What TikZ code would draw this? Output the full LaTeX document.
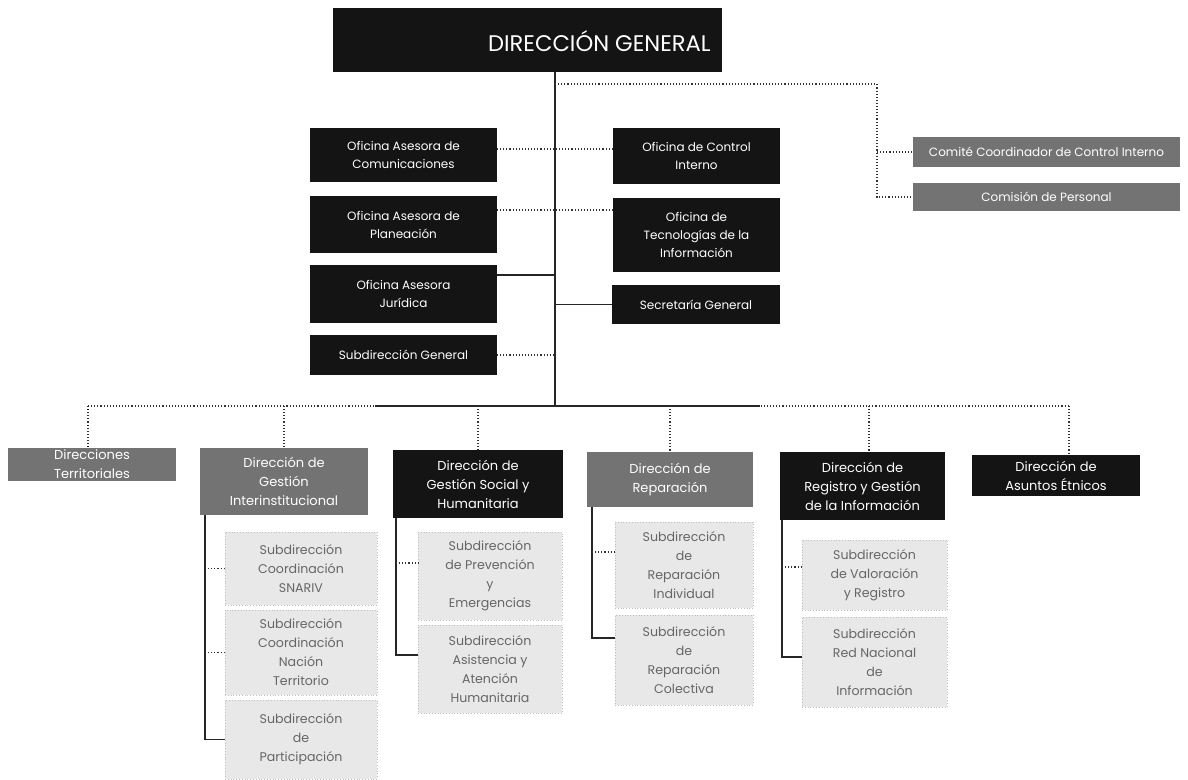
\documentclass[tikz,border=0pt]{standalone}
\usepackage{fontspec}
\setmainfont{Poppins}
\begin{document}
\begin{tikzpicture}[x=0.5pt,y=-0.5pt,
  base/.style={inner sep=0pt, outer sep=0pt, align=center, font=\fontsize{6}{9}\selectfont},
  dark/.style={base, fill=black!92, text=white},
  hatch/.style={base, fill=black!55, text=white},
  sub/.style={base, fill=black!9, draw=black!25, densely dotted, text=black!60, font=\fontsize{6.3}{9.5}\selectfont},
  dirbox/.style={font=\fontsize{6.5}{9.5}\selectfont},
  conn/.style={draw=black!85, line width=0.55pt},
  dconn/.style={draw=black!80, line width=0.55pt, densely dotted}]
\newcommand\obox[7]{\node[#1, minimum width={(#5-#3)*0.5pt}, minimum height={(#6-#4)*0.5pt}] (#2) at ({(#3+#5)/2},{(#4+#6)/2}) {#7};}
\path[use as bounding box] (0,0) rectangle (1188,780);
% top
\obox{dark}{dg}{333}{8}{722}{72}{}
\node[anchor=east, text=white, font=\fontsize{11.3}{13}\selectfont, inner sep=0pt] (dgt) at (711,41) {DIRECCIÓN GENERAL};
% left column
\obox{dark}{com}{310}{128}{497}{182}{Oficina Asesora de\\Comunicaciones}
\obox{dark}{pla}{310}{196}{497}{253}{Oficina Asesora de\\Planeación}
\obox{dark}{jur}{310}{265}{497}{323}{Oficina Asesora\\Jurídica}
\obox{dark}{sdg}{310}{335}{497}{375}{Subdirección General}
% right column
\obox{dark}{oci}{613}{128}{780}{184}{Oficina de Control\\Interno}
\obox{dark}{oti}{613}{198}{780}{272}{Oficina de\\Tecnologías de la\\Información}
\obox{dark}{sg}{612}{285}{780}{324}{Secretaría General}
% comites
\obox{hatch}{cc}{913}{137}{1180}{167}{Comité Coordinador de Control Interno}
\obox{hatch}{cp}{913}{183}{1180}{211}{Comisión de Personal}
% directions
\obox{hatch,dirbox}{dt}{8}{448}{176}{481}{Direcciones\\Territoriales}
\obox{hatch,dirbox}{dgi}{200}{448}{368}{515}{Dirección de\\Gestión\\Interinstitucional}
\obox{dark,dirbox}{dgs}{393}{450}{563}{518}{Dirección de\\Gestión Social y\\Humanitaria}
\obox{hatch,dirbox}{dr}{587}{452}{753}{507}{Dirección de\\Reparación}
\obox{dark,dirbox}{drg}{780}{452}{945}{520}{Dirección de\\Registro y Gestión\\de la Información}
\obox{dark,dirbox}{dae}{972}{455}{1140}{496}{Dirección de\\Asuntos Étnicos}
% subdirections
\obox{sub}{s11}{225}{532}{377}{605}{Subdirección\\Coordinación\\SNARIV}
\obox{sub}{s12}{225}{610}{377}{695}{Subdirección\\Coordinación\\Nación\\Territorio}
\obox{sub}{s13}{225}{700}{377}{779}{Subdirección\\de\\Participación}
\obox{sub}{s21}{418}{532}{562}{620}{Subdirección\\de Prevención\\y\\Emergencias}
\obox{sub}{s22}{418}{625}{562}{713}{Subdirección\\Asistencia y\\Atención\\Humanitaria}
\obox{sub}{s31}{615}{522}{753}{608}{Subdirección\\de\\Reparación\\Individual}
\obox{sub}{s32}{615}{615}{753}{705}{Subdirección\\de\\Reparación\\Colectiva}
\obox{sub}{s41}{802}{540}{947}{610}{Subdirección\\de Valoración\\y Registro}
\obox{sub}{s42}{802}{617}{947}{707}{Subdirección\\Red Nacional\\de\\Información}
% coordinates
\coordinate (tr) at (555,406);
\coordinate (bl) at (88,406);
\coordinate (br) at (1069,406);
\coordinate (d5) at (869,406);
\coordinate (cd) at (877,84);
\coordinate (v1) at (205,0);
\coordinate (v2) at (396,0);
\coordinate (v3) at (592,0);
\coordinate (v4) at (782,0);
% trunk and bus
\draw[conn] (dg.south -| tr) -- (tr);
\draw[dconn] (bl) -- (br);
\draw[conn] (375,406) -- (760,406);
\draw[dconn] (bl) -- (bl |- dt.north);
\draw[dconn] (dgi.north |- tr) -- (dgi.north);
\draw[dconn] (dgs.north |- tr) -- (dgs.north);
\draw[dconn] (dr.north |- tr) -- (dr.north);
\draw[dconn] (d5) -- (d5 |- drg.north);
\draw[dconn] (br) -- (br |- dae.north);
% branches
\draw[dconn] (com.east |- 0,149) -- (oci.west |- 0,149);
\draw[dconn] (pla.east |- 0,210) -- (oti.west |- 0,210);
\draw[conn] (jur.east |- 0,275) -- (tr |- 0,275);
\draw[conn] (tr |- sg.west) -- (sg.west);
\draw[dconn] (sdg.east) -- (tr |- sdg.east);
% comites
\draw[dconn] (tr |- cd) -- (cd) -- (cd |- cp.west) -- (cp.west);
\draw[dconn] (cd |- cc.west) -- (cc.west);
% sub connectors
\draw[conn] (dgi.south -| v1) -- (v1 |- s13.west) -- (s13.west);
\draw[dconn] (v1 |- s11.west) -- (s11.west);
\draw[dconn] (v1 |- s12.west) -- (s12.west);
\draw[conn] (dgs.south -| v2) -- (v2 |- 0,655) -- (s22.west |- 0,655);
\draw[dconn] (v2 |- 0,563) -- (s21.west |- 0,563);
\draw[conn] (dr.south -| v3) -- (v3 |- 0,638) -- (s32.west |- 0,638);
\draw[dconn] (v3 |- 0,552) -- (s31.west |- 0,552);
\draw[conn] (drg.south -| v4) -- (v4 |- 0,657) -- (s42.west |- 0,657);
\draw[dconn] (v4 |- 0,567) -- (s41.west |- 0,567);
\end{tikzpicture}
\end{document}
